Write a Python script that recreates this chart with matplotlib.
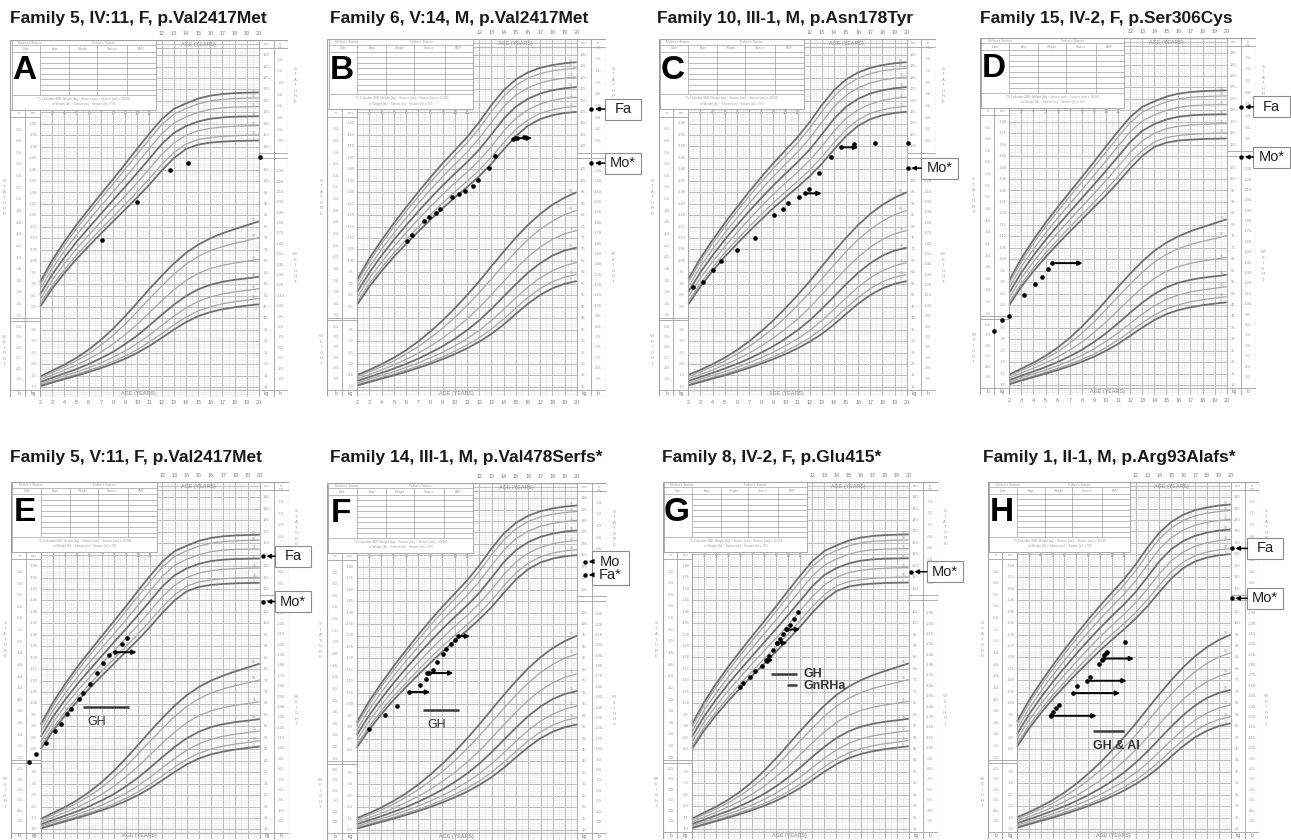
import numpy as np
import matplotlib.pyplot as plt
from matplotlib.patches import Rectangle

plt.rcParams['font.family'] = ['Liberation Sans', 'DejaVu Sans']

# CDC 2-20 y growth chart curves, rows = 95th ... 5th
ages = list(range(2, 21))
pct_names = ['95', '90', '75', '50', '25', '10', '5']

girls_stature = [
    [90.8, 100.4, 108.5, 115.9, 122.7, 129.3, 135.8, 142.4, 149.2, 155.8, 162.0, 166.5, 168.9, 171.0, 172.3, 173.0, 173.4, 173.6, 173.7],
    [89.6, 99.0, 107.0, 114.2, 120.9, 127.3, 133.7, 140.2, 146.8, 153.3, 159.6, 164.2, 166.7, 168.7, 170.0, 170.7, 171.0, 171.2, 171.3],
    [87.6, 96.8, 104.4, 111.4, 117.9, 124.1, 130.3, 136.5, 142.9, 149.3, 155.6, 160.3, 163.0, 165.0, 166.3, 167.0, 167.3, 167.4, 167.5],
    [85.4, 94.2, 101.6, 108.4, 114.6, 120.6, 126.6, 132.5, 138.6, 144.8, 151.1, 156.0, 159.0, 161.0, 162.2, 162.8, 163.1, 163.2, 163.3],
    [83.2, 91.7, 98.9, 105.4, 111.4, 117.2, 122.9, 128.5, 134.3, 140.4, 146.6, 151.6, 155.0, 157.0, 158.0, 158.6, 158.9, 159.1, 159.2],
    [81.2, 89.4, 96.3, 102.6, 108.4, 114.0, 119.4, 124.8, 130.3, 136.1, 142.2, 147.4, 151.2, 153.1, 154.0, 154.5, 154.8, 155.0, 155.1],
    [80.0, 88.0, 94.8, 100.9, 106.6, 112.0, 117.3, 122.6, 127.9, 133.5, 139.6, 145.0, 149.0, 150.9, 151.8, 152.2, 152.5, 152.6, 152.7],
]
boys_stature = [
    [92.0, 101.2, 109.1, 116.5, 123.4, 130.1, 136.5, 142.6, 148.3, 154.0, 160.6, 168.0, 174.5, 179.2, 182.3, 184.3, 185.5, 186.3, 186.8],
    [90.7, 99.8, 107.6, 114.8, 121.6, 128.1, 134.4, 140.3, 145.9, 151.5, 157.9, 165.2, 171.8, 176.6, 179.8, 181.8, 183.0, 183.7, 184.2],
    [88.7, 97.5, 105.1, 112.2, 118.7, 125.0, 131.1, 136.8, 142.2, 147.5, 153.5, 160.5, 167.3, 172.3, 175.6, 177.7, 179.0, 179.8, 180.3],
    [86.5, 95.0, 102.4, 109.2, 115.5, 121.6, 127.4, 132.9, 138.1, 143.1, 148.6, 155.2, 162.0, 167.3, 170.8, 173.1, 174.5, 175.4, 175.9],
    [84.3, 92.5, 99.6, 106.2, 112.3, 118.1, 123.7, 129.0, 134.0, 138.7, 143.9, 150.0, 156.6, 162.2, 166.0, 168.5, 170.1, 171.0, 171.5],
    [82.2, 90.2, 97.1, 103.5, 109.2, 114.8, 120.2, 125.3, 130.1, 134.7, 139.6, 145.3, 151.6, 157.4, 161.6, 164.4, 166.0, 167.0, 167.5],
    [81.0, 88.8, 95.6, 101.8, 107.4, 112.8, 118.0, 123.0, 127.7, 132.2, 137.0, 142.4, 148.6, 154.5, 159.0, 161.9, 163.6, 164.6, 165.1],
]
girls_weight = [
    [14.6, 17.2, 19.8, 22.8, 26.4, 30.6, 35.5, 41.0, 46.9, 52.9, 58.6, 64.0, 68.6, 72.2, 75.0, 77.2, 79.0, 80.7, 82.4],
    [14.0, 16.4, 18.8, 21.5, 24.6, 28.3, 32.6, 37.5, 43.0, 48.6, 54.1, 59.3, 63.7, 67.1, 69.6, 71.4, 72.8, 74.0, 75.3],
    [13.1, 15.3, 17.4, 19.7, 22.3, 25.3, 28.8, 32.9, 37.5, 42.6, 47.7, 52.5, 56.6, 59.7, 61.8, 63.2, 64.2, 65.0, 65.8],
    [12.2, 14.1, 16.0, 17.9, 20.1, 22.6, 25.4, 28.8, 32.6, 37.0, 41.6, 46.0, 49.8, 52.7, 54.7, 56.0, 56.9, 57.5, 58.2],
    [11.4, 13.2, 14.9, 16.6, 18.5, 20.6, 23.0, 25.8, 29.1, 32.8, 36.9, 41.0, 44.6, 47.4, 49.4, 50.7, 51.6, 52.3, 53.0],
    [10.8, 12.4, 14.0, 15.6, 17.3, 19.1, 21.2, 23.6, 26.4, 29.7, 33.4, 37.2, 40.6, 43.3, 45.1, 46.4, 47.3, 48.0, 48.7],
    [10.4, 12.0, 13.5, 15.0, 16.6, 18.3, 20.2, 22.4, 25.0, 28.0, 31.5, 35.1, 38.4, 41.0, 42.8, 44.0, 44.9, 45.6, 46.2],
]
boys_weight = [
    [15.2, 17.4, 19.9, 22.7, 26.0, 29.8, 34.2, 39.0, 44.3, 50.0, 56.1, 62.6, 69.0, 75.1, 80.7, 85.5, 89.5, 92.6, 95.0],
    [14.5, 16.6, 18.8, 21.3, 24.3, 27.6, 31.4, 35.6, 40.3, 45.5, 51.1, 57.1, 63.2, 69.0, 74.3, 78.8, 82.4, 85.2, 87.0],
    [13.6, 15.4, 17.4, 19.6, 22.0, 24.7, 27.8, 31.3, 35.2, 39.6, 44.6, 50.2, 56.0, 61.6, 66.7, 71.0, 74.4, 76.8, 78.3],
    [12.6, 14.3, 16.1, 18.0, 20.0, 22.3, 24.9, 27.7, 31.0, 34.7, 39.0, 44.0, 49.4, 54.8, 59.8, 64.0, 67.3, 69.5, 70.8],
    [11.7, 13.4, 15.0, 16.6, 18.5, 20.5, 22.7, 25.1, 27.9, 31.0, 34.6, 38.9, 43.8, 48.8, 53.6, 57.6, 60.7, 62.9, 64.3],
    [11.0, 12.6, 14.1, 15.6, 17.3, 19.1, 21.0, 23.1, 25.6, 28.3, 31.4, 35.2, 39.6, 44.4, 49.0, 52.9, 55.9, 57.9, 59.1],
    [10.6, 12.1, 13.6, 15.0, 16.6, 18.3, 20.1, 22.1, 24.3, 26.8, 29.7, 33.1, 37.2, 41.8, 46.3, 50.1, 53.0, 55.0, 56.2],
]

titles = ["Family 5, IV:11, F, p.Val2417Met", "Family 6, V:14, M, p.Val2417Met",
          "Family 10, III-1, M, p.Asn178Tyr", "Family 15, IV-2, F, p.Ser306Cys",
          "Family 5, V:11, F, p.Val2417Met", "Family 14, III-1, M, p.Val478Serfs*",
          "Family 8, IV-2, F, p.Glu415*", "Family 1, II-1, M, p.Arg93Alafs*"]
letters = ['A', 'B', 'C', 'D', 'E', 'F', 'G', 'H']
sexes = ['F', 'M', 'M', 'F', 'F', 'M', 'F', 'M']

# patient statures (age in years, cm)
a_age = [7.1, 9.99, 12.65, 14.13, 20.06]
a_cm = [109.1, 125.8, 139.8, 142.8, 145.7]
b_age = [6.10, 6.46, 7.50, 7.85, 8.48, 8.78, 9.80, 10.34, 10.86, 11.52, 11.93, 12.80, 13.27, 14.75, 15.13, 15.65]
b_cm = [108.8, 111.1, 117.3, 119.0, 120.8, 122.8, 128.0, 129.3, 130.6, 132.9, 135.4, 140.5, 145.6, 153.2, 153.7, 154.3]
c_age = [2.36, 3.18, 4.06, 4.72, 5.98, 7.50, 9.09, 9.83, 10.24, 11.10, 11.92, 12.77, 13.73, 15.63, 17.36, 20.08]
c_cm = [88.8, 91.0, 96.2, 100.1, 104.7, 110.2, 119.9, 122.6, 125.2, 127.9, 131.5, 138.4, 145.5, 151.1, 151.4, 151.5]
d_age = [0.76, 1.39, 2.0, 3.21, 4.15, 4.71, 5.20]
d_cm = [68.5, 73.4, 75.4, 84.2, 89.1, 92.2, 95.9]
e_age = [1.04, 1.62, 2.44, 3.18, 3.64, 4.16, 4.52, 5.12, 5.45, 6.08, 6.60, 7.15, 7.62, 8.66, 9.10]
e_cm = [74.3, 78.0, 82.9, 88.0, 91.0, 95.2, 97.5, 101.8, 104.8, 108.7, 113.5, 117.7, 121.1, 126.0, 128.7]
f_age = [3.01, 4.31, 5.27, 7.17, 7.66, 7.90, 8.26, 8.59, 9.07, 9.29, 9.70, 10.0]
f_cm = [89.1, 95.1, 99.3, 108.2, 111.0, 113.6, 115.1, 118.3, 122.1, 124.3, 126.5, 128.2]
g_age = [5.99, 6.27, 6.82, 7.26, 7.82, 8.20, 8.43, 8.70, 9.09, 9.31, 9.59, 9.87, 10.14, 10.48, 10.81]
g_cm = [106.9, 108.7, 111.5, 114.1, 116.3, 118.5, 120.4, 123.4, 126.3, 128.1, 130.1, 132.2, 134.0, 136.6, 139.9]
h_age = [4.84, 5.06, 5.29, 5.51, 7.08, 8.15, 8.94, 9.16, 9.33, 9.50, 9.61, 11.10]
h_cm = [94.8, 96.1, 98.1, 99.0, 107.6, 111.4, 117.3, 119.0, 121.2, 122.1, 122.5, 126.9]

# bone age arrows: (chronological age, bone age, stature)
b_arrows = [(14.94, 16.33, 153.6)]
c_arrows = [(11.62, 12.99, 129.5), (14.59, 16.01, 149.6)]
d_arrows = [(5.51, 8.07, 98.3)]
e_arrows = [(8.08, 9.89, 122.4)]
f_arrows = [(6.30, 7.99, 105.3), (7.77, 9.89, 113.6), (10.27, 11.25, 129.7)]
g_arrows = [(8.15, 8.76, 118.8), (9.04, 9.92, 126.3), (9.78, 10.98, 132.2)]
h_arrows = [(4.84, 8.71, 94.5), (6.75, 10.68, 104.4), (7.87, 11.24, 109.8), (9.22, 11.86, 119.5)]

# treatments: (name, start age, end age, level)
e_tx = [('GH', 5.51, 9.29, 98.4)]
f_tx = [('GH', 7.44, 10.38, 97.3)]
g_tx = [('GH', 8.54, 10.70, 112.9), ('GnRHa', 9.87, 10.70, 107.9)]
h_tx = [('GH & AI', 8.43, 11.04, 88.0)]

# parental statures, grouped per label box
b_par = [[('Fa', 21.2, 166.3)], [('Mo*', 21.2, 142.7)]]
c_par = [[('Mo*', 20.08, 140.5)]]
d_par = [[('Fa', 21.2, 166.5)], [('Mo*', 21.2, 144.6)]]
e_par = [[('Fa', 20.25, 164.3)], [('Mo*', 20.25, 144.5)]]
f_par = [[('Mo', 20.64, 162.3), ('Fa*', 20.64, 156.5)]]
g_par = [[('Mo*', 20.17, 157.4)]]
h_par = [[('Fa', 20.09, 167.6)], [('Mo*', 20.09, 145.8)]]

all_age = [a_age, b_age, c_age, d_age, e_age, f_age, g_age, h_age]
all_cm = [a_cm, b_cm, c_cm, d_cm, e_cm, f_cm, g_cm, h_cm]
all_arrows = [[], b_arrows, c_arrows, d_arrows, e_arrows, f_arrows, g_arrows, h_arrows]
all_tx = [[], [], [], [], e_tx, f_tx, g_tx, h_tx]
all_par = [[], b_par, c_par, d_par, e_par, f_par, g_par, h_par]

# layout (pixels): age 2 / age 20 x position, 80 cm y position
x2s = [40, 357.3, 688.3, 1009.3, 40.7, 356.7, 692, 1017]
x20s = [259, 576.7, 906.7, 1226.7, 259.7, 577.3, 908.7, 1230.7]
y80s = [307, 306.7, 306.7, 305, 749.3, 750, 749, 749]
title_x = [10, 330, 657, 980, 10, 330, 662, 983]
title_y = [18, 18, 18, 18, 458, 458, 458, 458]
box_left = [0, 22.3, 21.2, 22.2, 21.25, 21.2, 21.5, 21.4]
tx_label_dx = [0, 0, 0, 0, 1.1, 1.1, 0, 1.9]
PXCM = 2.29
W, H = 1291, 840
X0, X1, Y0, Y1 = -0.45, 22.4, 40.9, 196.8

MINOR = '#e6e6e6'
MAJOR = '#bdbdbd'
FRAME = '#a0a0a0'
TXT = '#9c9c9c'


def kg(v):
    return v + 35


def lb(v):
    return v * 0.45359 + 35


def t(ax, x, y, s, size=2.9, color=TXT, **kw):
    ax.text(x, y, s, fontsize=size, color=color, ha=kw.pop('ha', 'center'),
            va='center', clip_on=False, zorder=kw.pop('zorder', 5), **kw)


def draw_chart(ax, sex, letter):
    st = boys_stature if sex == 'M' else girls_stature
    wt = boys_weight if sex == 'M' else girls_weight

    ax.vlines(np.arange(2.5, 20, 1.0), Y0, Y1, color=MINOR, lw=0.45, zorder=1)
    ax.hlines(np.arange(42, 197, 1), 2, 20, color=MINOR, lw=0.4, zorder=1)
    ax.vlines(range(2, 21), Y0, Y1, color=MAJOR, lw=0.75, zorder=1)
    ax.hlines(np.arange(45, 196, 5), 2, 20, color=MAJOR, lw=0.75, zorder=1)

    # side scale columns
    ax.add_patch(Rectangle((X0, Y0), 2 - X0, 166.2 - Y0, fc='white', ec='none', zorder=2))
    ax.add_patch(Rectangle((20, Y0), X1 - 20, Y1 - Y0, fc='white', ec='none', zorder=2))
    for x in (0.77, 2, 20, 21.2):
        ax.vlines(x, Y0, 196.8 if x >= 20 else 166.2, color=FRAME, lw=0.6, zorder=4)
    ax.hlines([75.2, 74.0, 163.0, 43.6, 166.2], X0, 2, color=FRAME, lw=0.6, zorder=4)
    ax.hlines([147.2, 145.0, 43.6, 193.3], 20, X1, color=FRAME, lw=0.6, zorder=4)
    ax.hlines([43.6, 193.3], 2, 20, color=FRAME, lw=0.5, zorder=4)

    for v in range(30, 63, 2):
        t(ax, 0.3, v * 2.54, '-%d-' % v)
    for v in range(80, 161, 5):
        t(ax, 1.45, v, '-%d' % v)
    for v in range(30, 81, 10):
        t(ax, 0.3, lb(v), '-%d-' % v)
    for v in range(10, 36, 5):
        t(ax, 1.45, kg(v), '-%d' % v)
    for v in range(150, 191, 5):
        t(ax, 20.6, v, '%d-' % v)
    for v in range(60, 77, 2):
        t(ax, 21.8, v * 2.54, '-%d-' % v)
    for v in range(10, 106, 5):
        t(ax, 20.6, kg(v), '%d-' % v)
    for v in range(30, 231, 10):
        t(ax, 21.8, lb(v), '-%d-' % v)
    for x, s in ((0.3, 'in'), (1.45, 'cm')):
        t(ax, x, 164.6, s, size=3.2)
    for x, s in ((0.3, 'lb'), (1.45, 'kg'), (20.6, 'kg'), (21.8, 'lb')):
        t(ax, x, 42.2, s, size=3.4, color='#777')
    t(ax, 20.6, 195.0, 'cm', size=3.2)
    t(ax, 21.8, 195.0, 'in', size=3.2)
    for a in range(3, 12):
        t(ax, a, 164.6, str(a), size=3.4)
    for a in range(12, 21):
        t(ax, a, 199.6, str(a), size=3.9, color='#7c7c7c')
    for a in range(2, 21):
        t(ax, a, 38.2, str(a), size=3.9, color='#7c7c7c')
    t(ax, 15.0, 194.8, 'AGE (YEARS)', size=3.9, color='#8c8c8c')
    t(ax, 10.1, 42.3, 'AGE (YEARS)', size=3.9, color='#8c8c8c')
    for i, ch in enumerate('STATURE'):
        t(ax, 23.0, 184 - 2.4 * i, ch, size=3.2)
        t(ax, -0.95, 135 - 2.4 * i, ch, size=3.2)
    for i, ch in enumerate('WEIGHT'):
        t(ax, 23.0, 103 - 2.4 * i, ch, size=3.2)
        t(ax, -0.95, 67 - 2.4 * i, ch, size=3.2)

    # percentile curves
    for name, row_s, row_w in zip(pct_names, st, wt):
        thick = name in ('95', '50', '5')
        col = '#6f6f6f' if thick else '#a6a6a6'
        lw = 1.3 if thick else 0.9
        ax.plot(ages, row_s, color=col, lw=lw, zorder=3, solid_capstyle='butt')
        ax.plot(ages, [kg(v) for v in row_w], color=col, lw=lw, zorder=3,
                solid_capstyle='butt')
        t(ax, 19.55, row_s[-1] + 0.7, name, size=2.4, color='#999')
        t(ax, 19.55, kg(row_w[-1]) + 0.7, name, size=2.4, color='#999')

    # record table
    ax.add_patch(Rectangle((-0.33, 166.2), 11.85, 30.5, fc='white', ec=FRAME,
                           lw=0.6, zorder=4))
    ax.hlines([194.3, 191.4, 172.7], -0.33, 11.52, color=FRAME, lw=0.5, zorder=4)
    ax.hlines(np.arange(189.0, 173.5, -2.4), 2.0, 11.52, color=FRAME, lw=0.5, zorder=4)
    ax.vlines([2.0, 4.39, 6.67, 9.16], 172.7, 194.3, color=FRAME, lw=0.5, zorder=4)
    t(ax, 0.2, 195.5, "Mother's Stature", size=2.3, ha='left')
    t(ax, 6.3, 195.5, "Father's Stature", size=2.3, ha='left')
    for x, s in ((0.85, 'Date'), (3.2, 'Age'), (5.5, 'Weight'), (7.9, 'Stature'), (10.3, 'BMI*')):
        t(ax, x, 192.8, s, size=2.3)
    t(ax, 5.6, 171.0, '*To Calculate BMI: Weight (kg) \u00f7 Stature (cm) \u00f7 Stature (cm) x 10,000',
      size=2.2)
    t(ax, 5.6, 168.6, 'or Weight (lb) \u00f7 Stature (in) \u00f7 Stature (in) x 703', size=2.2)
    t(ax, 0.72, 183.3, letter, size=24, color='black', fontweight='bold', zorder=6)

    ax.add_patch(Rectangle((X0, Y0), X1 - X0, Y1 - Y0, fc='none', ec=FRAME,
                           lw=0.8, zorder=4))


fig = plt.figure(figsize=(W / 100, H / 100), dpi=100)

for i in range(8):
    pxyr = (x20s[i] - x2s[i]) / 18.0
    left = x2s[i] - (2 - X0) * pxyr
    top = y80s[i] - (Y1 - 80) * PXCM
    wpx = (X1 - X0) * pxyr
    hpx = (Y1 - Y0) * PXCM
    ax = fig.add_axes([left / W, 1 - (top + hpx) / H, wpx / W, hpx / H])
    ax.set_xlim(X0, X1)
    ax.set_ylim(Y0, Y1)
    ax.axis('off')
    draw_chart(ax, sexes[i], letters[i])

    fig.text(title_x[i] / W, 1 - title_y[i] / H, titles[i], fontsize=12.5,
             fontweight='bold', color='#1a1a1a', ha='left', va='center')

    ax.plot(all_age[i], all_cm[i], 'o', color='black', ms=2.3, zorder=6,
            clip_on=False)

    for s, e, y in all_arrows[i]:
        ax.plot([s], [y], 'o', color='black', ms=2.3, zorder=6)
        ax.annotate('', xy=(e, y), xytext=(s, y),
                    arrowprops=dict(arrowstyle='-|>', color='black', lw=1.4,
                                    mutation_scale=6, shrinkA=0, shrinkB=0),
                    zorder=6)

    for name, s, e, y in all_tx[i]:
        ax.plot([s, e], [y, y], color='#3a3a3a', lw=1.8, zorder=6,
                solid_capstyle='butt')
        if letters[i] == 'G':
            ax.text(e + 0.6, y - 0.3, name, fontsize=9, fontweight='bold',
                    color='#333333', ha='left', va='center', zorder=6)
        else:
            ax.text(s + tx_label_dx[i], y - 6.5, name, fontsize=9,
                    fontweight='bold' if letters[i] == 'H' else 'normal',
                    color='#333333', ha='center', va='center', zorder=6)

    for group in all_par[i]:
        ys = [p[2] for p in group]
        bl = box_left[i]
        ax.add_patch(Rectangle((bl, min(ys) - 4.6), 3.0, max(ys) - min(ys) + 9.2,
                               fc='white', ec='#8c8c8c', lw=0.8, zorder=7,
                               clip_on=False))
        for name, x, y in group:
            ax.plot([x], [y], 'o', color='black', ms=2.2, zorder=7, clip_on=False)
            ax.annotate('', xy=(x + 0.3, y), xytext=(bl, y),
                        arrowprops=dict(arrowstyle='-|>', color='black', lw=1.1,
                                        mutation_scale=6, shrinkA=0, shrinkB=0),
                        zorder=7, annotation_clip=False)
            ax.text(bl + 1.5, y, name, fontsize=10.5, color='#222222',
                    ha='center', va='center', zorder=8, clip_on=False)

fig.savefig('out.png', dpi=100)
